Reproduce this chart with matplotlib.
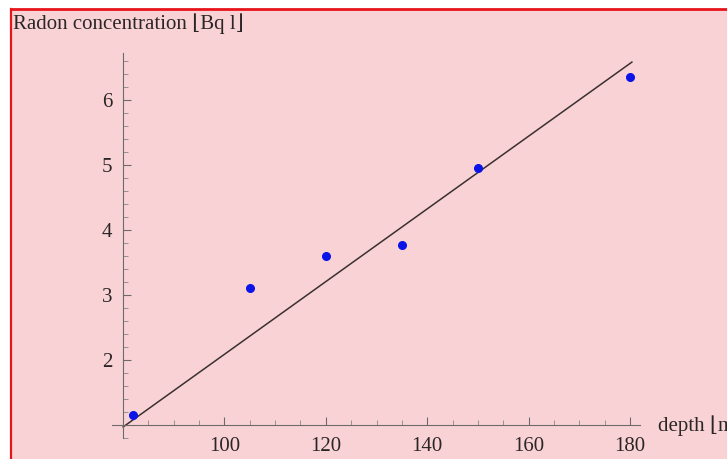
import numpy as np
import matplotlib.pyplot as plt
from matplotlib.ticker import MultipleLocator, FixedLocator

# measured points
depth = [82, 105, 120, 135, 150, 180]
radon = [1.15, 3.11, 3.60, 3.77, 4.95, 6.35]

# straight line drawn through the data (end points)
fit_depth = [80, 180.4]
fit_radon = [0.97, 6.58]

x_major = [100, 120, 140, 160, 180]
y_major = [2, 3, 4, 5, 6]

PINK = "#f9d2d6"
TEXT = "#2b2626"
SERIF = ["Liberation Serif", "DejaVu Serif"]

fig = plt.figure(figsize=(7.27, 4.59), dpi=100)
fig.patch.set_facecolor("white")

# pink page with red frame along top and left
bg = fig.add_axes([11 / 727, 0, 1 - 11 / 727, 1 - 9 / 459], zorder=-5)
bg.set_facecolor(PINK)
bg.set_xticks([])
bg.set_yticks([])
for s in ("right", "bottom"):
    bg.spines[s].set_visible(False)
bg.spines["left"].set_color("#e8141c")
bg.spines["left"].set_linewidth(1.6)
bg.spines["top"].set_color("#e8141c")
bg.spines["top"].set_linewidth(2.0)

ax = fig.add_axes([112 / 727, 1 - 438 / 459, 528 / 727, 385 / 459])
ax.set_facecolor("none")

ax.plot(fit_depth, fit_radon, color="#3b3030", lw=1.1, zorder=2)
ax.plot(depth, radon, "o", color="#0a14e6", ms=5.5, zorder=3)

ax.set_xlim(77.8, 182)
ax.set_ylim(0.8, 6.72)

for s in ("top", "right"):
    ax.spines[s].set_visible(False)
ax.spines["left"].set_position(("data", 80))
ax.spines["bottom"].set_position(("data", 1))
for s in ("left", "bottom"):
    ax.spines[s].set_color("#6e6a6a")
    ax.spines[s].set_linewidth(0.8)

ax.xaxis.set_major_locator(FixedLocator(x_major))
ax.xaxis.set_minor_locator(MultipleLocator(5))
ax.yaxis.set_major_locator(FixedLocator(y_major))
ax.yaxis.set_minor_locator(MultipleLocator(0.2))
ax.tick_params(which="major", direction="in", length=6, width=0.8,
               color="#6e6a6a", labelcolor=TEXT, labelsize=15)
ax.tick_params(axis="x", which="major", pad=9)
ax.tick_params(axis="y", which="major", pad=8)
ax.tick_params(which="minor", direction="in", length=3.5, width=0.6,
               color="#8a8585")
for lab in ax.get_xticklabels() + ax.get_yticklabels():
    lab.set_family(SERIF)

fig.text(13 / 727, 1 - 24 / 459, "Radon concentration ⌊Bq l⌋", family=SERIF,
         fontsize=15, color=TEXT, va="center", ha="left")
fig.text(658 / 727, 1 - 426 / 459, "depth ⌊m⌋", family=SERIF,
         fontsize=15, color=TEXT, va="center", ha="left")

fig.savefig("out.png", dpi=100)
